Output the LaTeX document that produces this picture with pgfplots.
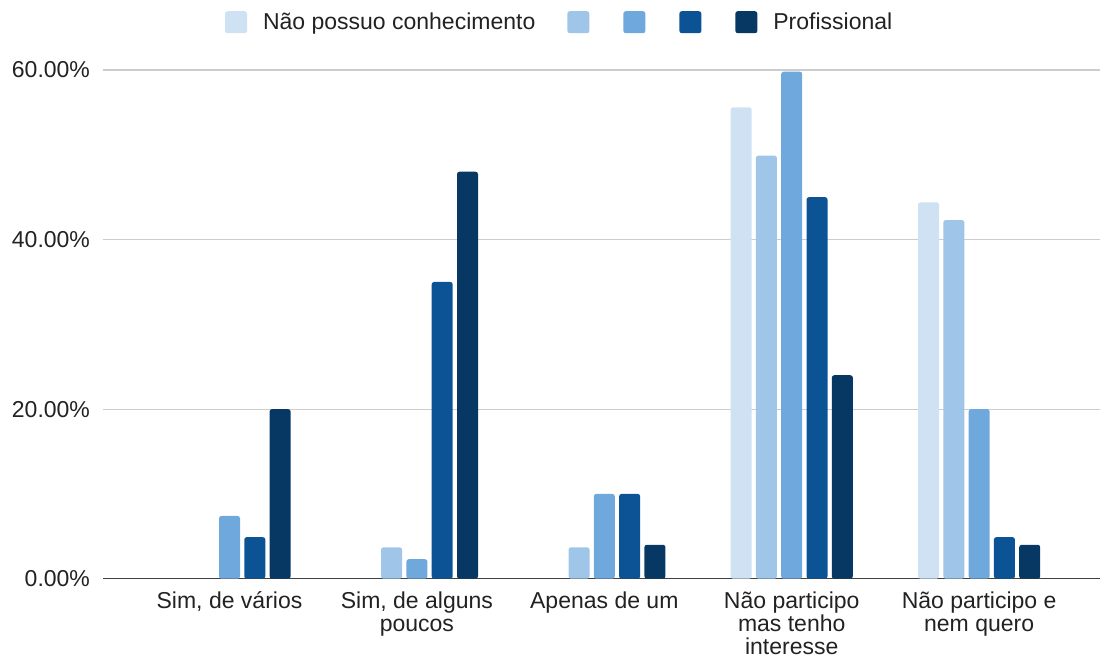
\documentclass[border=0pt]{standalone}
\usepackage{pgfplots}
\pgfplotsset{compat=1.18}
\usepackage{fontspec}
\setmainfont{Liberation Sans}
\definecolor{c1}{HTML}{CFE2F3}
\definecolor{c2}{HTML}{9FC5E8}
\definecolor{c3}{HTML}{6FA8DC}
\definecolor{c4}{HTML}{0B5394}
\definecolor{c5}{HTML}{073763}
\definecolor{txt}{HTML}{222222}
\begin{document}
\begin{tikzpicture}
\begin{axis}[
  at={(0,0)}, anchor=south west,
  scale only axis,
  width=498.5pt, height=254.35pt,
  xmin=-0.675, xmax=4.645,
  ymin=0, ymax=60,
  ybar=2.15pt, bar width=10.5pt,
  xtick={0,1,2,3,4},
  xticklabels={{Sim, de vários},{Sim, de alguns\\poucos},{Apenas de um},{Não participo\\mas tenho\\interesse},{Não participo e\\nem quero}},
  xticklabel style={align=center, text=txt, font=\fontsize{11.5}{11.5}\selectfont, yshift=-3pt},
  ytick={0,20,40,60},
  yticklabel={\pgfmathprintnumber[fixed,fixed zerofill,precision=2]{\tick}\%},
  yticklabel style={text=txt, font=\fontsize{11.5}{13}\selectfont, xshift=-3pt},
  /pgf/number format/assume math mode=true,
  major tick length=0pt,
  ymajorgrids, grid style={draw=black!20, line width=0.6pt},
  axis lines*=left,
  y axis line style={draw=none},
  x axis line style={draw=black!75, line width=0.75pt, -},
  every axis plot/.append style={draw=none, rounded corners=1.2pt},
  legend columns=-1,
  legend style={at={(0.457,1.094)}, anchor=center, draw=none, fill=none,
    font=\fontsize{11.5}{13}\selectfont, text=txt,
    nodes={inner xsep=0pt, inner ysep=1pt},
    /tikz/every odd column/.append style={column sep=0pt},
    /tikz/every even column/.append style={column sep=16pt}},
  legend image code/.code={\fill[#1, rounded corners=1.2pt] (0pt,-5.5pt) rectangle (11pt,5.5pt);},
]
\addplot[fill=c1] coordinates {(3,55.6) (4,44.4)};
\addplot[fill=c2] coordinates {(1,3.7) (2,3.7) (3,49.9) (4,42.3)};
\addplot[fill=c3] coordinates {(0,7.4) (1,2.3) (2,10) (3,59.8) (4,20)};
\addplot[fill=c4] coordinates {(0,4.9) (1,35) (2,10) (3,45) (4,4.9)};
\addplot[fill=c5] coordinates {(0,20) (1,48) (2,4) (3,24) (4,4)};
\legend{\hspace{8pt}Não possuo conhecimento,\mbox{},\mbox{},\mbox{},\hspace{8pt}Profissional}
\end{axis}
\pgfresetboundingbox
\path (-51.5pt,-39.65pt) rectangle (499pt,289.35pt);
\end{tikzpicture}
\end{document}
